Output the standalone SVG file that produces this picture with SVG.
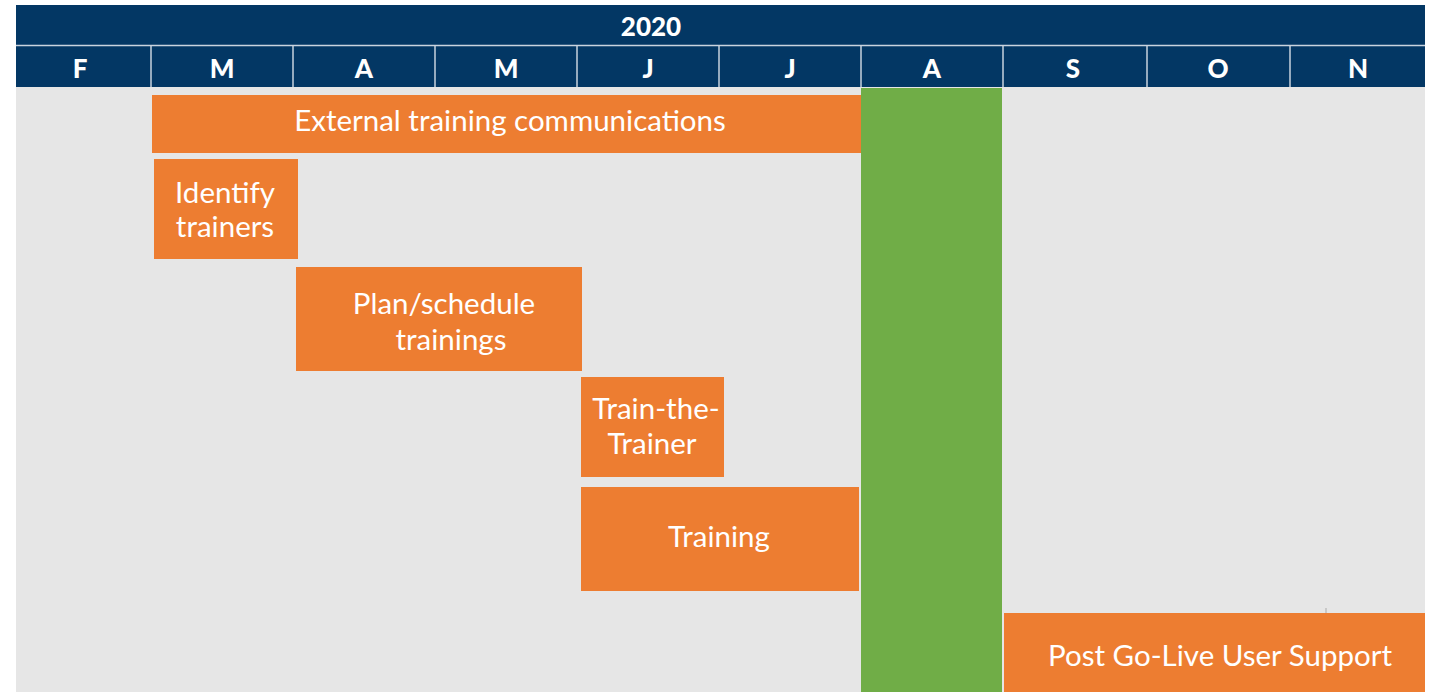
<svg xmlns="http://www.w3.org/2000/svg" width="1433" height="692" viewBox="0 0 1433 692">
<style>
.hdr{fill:#033764}
.mon{font-family:Lato,"Open Sans",sans-serif;font-weight:900;font-size:26px;fill:#fff;text-anchor:middle}
.bar{fill:#ed7d31}
.lbl{font-family:Lato,"Open Sans",sans-serif;font-size:29.5px;fill:#fff;text-anchor:middle}
.div{stroke:#c9d3de;stroke-width:1.5}
</style>
<rect width="1433" height="692" fill="#fff"/>
<rect x="16" y="87" width="1409" height="605" fill="#e6e6e6"/>
<g id="header">
<rect class="hdr" x="16" y="5" width="1409" height="82"/>
<line class="div" x1="16" y1="45.5" x2="1425" y2="45.5"/>
<g class="div">
<line x1="151" y1="46" x2="151" y2="87"/>
<line x1="293" y1="46" x2="293" y2="87"/>
<line x1="435" y1="46" x2="435" y2="87"/>
<line x1="577" y1="46" x2="577" y2="87"/>
<line x1="719" y1="46" x2="719" y2="87"/>
<line x1="861" y1="46" x2="861" y2="87"/>
<line x1="1003" y1="46" x2="1003" y2="87"/>
<line x1="1147" y1="46" x2="1147" y2="87"/>
<line x1="1290" y1="46" x2="1290" y2="87"/>
</g>
<text class="mon" x="651" y="36">2020</text>
<text class="mon" x="80" y="78">F</text>
<text class="mon" x="222" y="78">M</text>
<text class="mon" x="364" y="78">A</text>
<text class="mon" x="506" y="78">M</text>
<text class="mon" x="648" y="78">J</text>
<text class="mon" x="790" y="78">J</text>
<text class="mon" x="932" y="78">A</text>
<text class="mon" x="1073" y="78">S</text>
<text class="mon" x="1218" y="78">O</text>
<text class="mon" x="1358" y="78">N</text>
</g>
<g id="golive">
<rect x="861" y="88" width="141" height="604" fill="#70ad47"/>
</g>
<g id="external">
<rect class="bar" x="152" y="95" width="709" height="58"/>
<text class="lbl" x="510" y="131">External training communications</text>
</g>
<g id="identify">
<rect class="bar" x="154" y="159" width="144" height="100"/>
<text class="lbl" x="225" y="203">Identify</text>
<text class="lbl" x="225" y="237">trainers</text>
</g>
<g id="plan">
<rect class="bar" x="296" y="267" width="286" height="104"/>
<text class="lbl" x="444" y="314">Plan/schedule</text>
<text class="lbl" x="451" y="350">trainings</text>
</g>
<g id="ttt">
<rect class="bar" x="581" y="377" width="143" height="100"/>
<text class="lbl" x="656" y="419">Train-the-</text>
<text class="lbl" x="652" y="454">Trainer</text>
</g>
<g id="training">
<rect class="bar" x="581" y="487" width="278" height="104"/>
<text class="lbl" x="719" y="547">Training</text>
</g>
<g id="support">
<line x1="1326" y1="608" x2="1326" y2="613" stroke="#aaa" stroke-width="1"/>
<rect class="bar" x="1004" y="613" width="421" height="79"/>
<text class="lbl" x="1220" y="666">Post Go-Live User Support</text>
</g>
</svg>
